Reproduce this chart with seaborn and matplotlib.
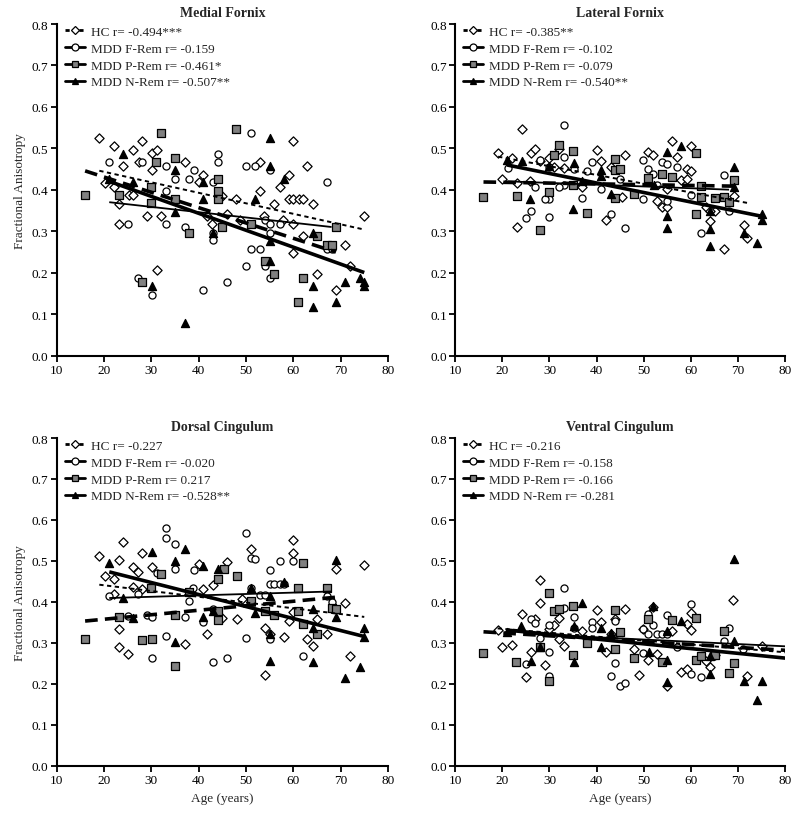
import numpy as np
import pandas as pd
import matplotlib
matplotlib.use("Agg")
import matplotlib.pyplot as plt
import seaborn as sns
from matplotlib.lines import Line2D

sns.set_theme(style="ticks")
plt.rcParams['font.family'] = ['Liberation Serif', 'DejaVu Serif']

groups = ["HC", "MDD F-Rem", "MDD P-Rem", "MDD N-Rem"]
panel_titles = ["Medial Fornix", "Lateral Fornix", "Dorsal Cingulum", "Ventral Cingulum"]

# r labels per panel
mf_r = ["-0.494***", "-0.159", "-0.461*", "-0.507**"]
lf_r = ["-0.385**", "-0.102", "-0.079", "-0.540**"]
dc_r = ["-0.227", "-0.020", "0.217", "-0.528**"]
vc_r = ["-0.216", "-0.158", "-0.166", "-0.281"]

# ---------------- Medial Fornix ----------------
mf_hc_age = [19.0,22.1,26.1,28.0,30.2,31.1,27.3,24.1,30.2,37.1,41.0,40.0,20.1,22.1,23.1,25.2,26.1,23.1,29.0,32.0,31.1,45.0,47.9,53.0,53.0,57.1,59.0,60.0,63.0,55.9,59.0,60.0,61.2,62.1,64.1,60.0,60.0,62.0,71.0,65.0,69.0,75.0,57.9,45.9,42.8,41.8,48.8,53.8,72.0]
mf_hc_fa = [0.526,0.506,0.497,0.517,0.488,0.497,0.468,0.457,0.448,0.468,0.437,0.418,0.417,0.407,0.367,0.387,0.387,0.318,0.338,0.338,0.207,0.386,0.378,0.467,0.398,0.407,0.437,0.517,0.457,0.367,0.378,0.378,0.378,0.378,0.367,0.318,0.248,0.289,0.268,0.198,0.158,0.338,0.327,0.341,0.318,0.338,0.328,0.338,0.217]
mf_f_age = [21.1,25.1,28.0,33.1,33.1,35.1,38.0,39.0,44.0,44.0,37.1,33.1,43.0,43.0,43.0,49.9,51.0,52.0,55.0,54.0,55.0,55.0,51.0,53.0,49.9,54.0,55.0,45.9,41.0,27.2,30.2,67.1,67.1,68.1,57.1]
mf_f_fa = [0.468,0.318,0.468,0.457,0.398,0.427,0.427,0.448,0.487,0.468,0.310,0.318,0.418,0.297,0.279,0.457,0.537,0.457,0.448,0.328,0.318,0.297,0.258,0.258,0.217,0.217,0.187,0.178,0.158,0.187,0.147,0.418,0.258,0.258,0.318]
mf_p_age = [32.1,47.9,16.0,23.1,31.0,35.1,30.0,30.0,35.1,44.0,44.0,44.0,38.0,45.0,51.0,54.0,55.9,62.0,61.0,65.0,67.1,68.1,69.0,28.0]
mf_p_fa = [0.537,0.546,0.388,0.388,0.468,0.477,0.408,0.368,0.378,0.427,0.398,0.378,0.297,0.310,0.318,0.228,0.198,0.187,0.129,0.288,0.268,0.268,0.310,0.178]
mf_n_age = [24.1,35.1,26.1,41.0,41.0,35.1,43.0,55.0,55.0,58.1,52.0,55.0,55.0,64.1,30.2,37.1,64.1,64.1,69.0,71.0,74.0,75.0,75.0,21.1]
mf_n_fa = [0.487,0.448,0.418,0.418,0.378,0.347,0.297,0.526,0.458,0.427,0.378,0.277,0.228,0.297,0.167,0.078,0.167,0.118,0.129,0.178,0.187,0.178,0.167,0.427]

# ---------------- Lateral Fornix ----------------
lf_hc_age = [19.1,22.0,24.1,26.0,27.0,28.0,30.0,31.0,32.0,33.0,40.0,41.0,43.0,46.0,20.0,23.1,25.9,23.1,41.9,51.0,51.9,55.9,57.0,58.0,59.1,60.0,60.1,54.9,52.9,53.9,54.9,63.2,64.1,65.2,69.2,71.2,72.0,67.1,64.1,45.3,36.9,59.1]
lf_hc_fa = [0.489,0.477,0.547,0.489,0.499,0.470,0.476,0.455,0.498,0.452,0.497,0.469,0.456,0.485,0.425,0.417,0.422,0.310,0.328,0.492,0.485,0.519,0.479,0.423,0.451,0.506,0.446,0.402,0.374,0.358,0.358,0.358,0.326,0.350,0.386,0.316,0.285,0.258,0.350,0.382,0.406,0.426]
lf_f_age = [33.0,21.1,28.0,33.0,30.0,33.0,27.0,30.0,29.0,26.0,25.1,30.0,32.0,36.9,37.9,39.0,41.0,43.0,46.0,49.9,51.0,51.9,53.9,54.9,57.0,48.0,49.9,52.9,54.9,60.0,62.1,67.1,68.1,35.1,45.0]
lf_f_fa = [0.556,0.452,0.471,0.480,0.456,0.411,0.408,0.378,0.378,0.349,0.333,0.334,0.408,0.381,0.446,0.466,0.402,0.342,0.309,0.472,0.450,0.439,0.466,0.463,0.455,0.390,0.379,0.411,0.373,0.388,0.296,0.435,0.348,0.450,0.426]
lf_p_age = [16.0,23.1,28.0,30.0,31.0,32.0,35.0,35.0,37.9,44.0,44.0,45.0,44.0,48.0,51.0,53.9,55.9,61.1,62.1,62.1,61.1,65.2,67.1,68.1,69.2]
lf_p_fa = [0.382,0.384,0.304,0.395,0.485,0.509,0.493,0.411,0.345,0.474,0.448,0.450,0.381,0.390,0.429,0.438,0.432,0.489,0.410,0.382,0.341,0.381,0.382,0.370,0.424]
lf_n_age = [21.0,24.1,30.0,35.1,41.0,41.0,25.9,35.0,43.0,54.9,58.0,54.9,54.9,64.1,64.1,64.1,69.2,69.2,71.2,74.1,75.1,75.1,36.9,52.1]
lf_n_fa = [0.472,0.470,0.458,0.464,0.448,0.434,0.378,0.354,0.391,0.492,0.506,0.338,0.309,0.350,0.305,0.264,0.456,0.408,0.297,0.273,0.328,0.341,0.422,0.411]

# ---------------- Dorsal Cingulum ----------------
dc_hc_age = [19.0,24.1,23.1,28.0,26.1,27.1,30.2,20.1,22.1,26.1,28.0,22.1,23.1,23.1,25.1,37.1,40.0,41.0,43.0,46.0,45.0,41.8,48.2,49.2,51.1,54.1,54.1,55.0,58.1,59.0,60.0,60.0,60.0,63.0,64.1,65.0,67.1,69.0,71.0,72.0,75.0]
dc_hc_fa = [0.511,0.545,0.502,0.519,0.484,0.473,0.485,0.462,0.455,0.437,0.431,0.419,0.333,0.289,0.272,0.298,0.492,0.431,0.441,0.498,0.360,0.321,0.358,0.408,0.530,0.337,0.221,0.321,0.315,0.354,0.550,0.519,0.376,0.309,0.293,0.358,0.321,0.481,0.397,0.267,0.489]
dc_f_age = [33.1,33.1,35.1,35.1,39.0,31.1,21.1,25.1,29.0,30.2,33.1,30.2,37.1,38.0,38.9,43.0,45.9,41.0,49.9,51.1,52.0,55.0,55.0,56.0,57.1,58.1,57.1,60.0,49.9,53.0,54.1,55.0,62.0,68.1,67.1,27.1,51.0,43.1]
dc_f_fa = [0.581,0.555,0.541,0.481,0.478,0.470,0.415,0.366,0.368,0.362,0.316,0.264,0.362,0.403,0.433,0.254,0.264,0.351,0.567,0.508,0.504,0.477,0.443,0.443,0.443,0.443,0.500,0.500,0.311,0.417,0.417,0.309,0.267,0.400,0.415,0.419,0.433,0.382]
dc_p_age = [16.0,23.1,28.0,30.2,30.0,32.1,35.1,35.1,38.0,44.0,45.3,44.0,48.2,51.0,54.0,56.0,61.0,61.0,62.0,65.0,62.1,67.1,68.1,69.0,44.0]
dc_p_fa = [0.309,0.362,0.306,0.309,0.433,0.468,0.368,0.244,0.423,0.455,0.480,0.355,0.462,0.403,0.378,0.368,0.378,0.433,0.346,0.321,0.494,0.433,0.386,0.382,0.378]
dc_n_age = [21.1,30.2,37.1,35.1,41.0,44.0,24.1,26.1,35.1,41.0,43.0,51.1,52.0,55.0,55.0,55.0,58.1,64.1,64.1,64.1,69.0,69.0,71.0,74.0,75.0,75.0]
dc_n_fa = [0.494,0.522,0.530,0.500,0.488,0.480,0.409,0.360,0.302,0.364,0.378,0.435,0.372,0.415,0.321,0.256,0.449,0.382,0.335,0.254,0.503,0.364,0.213,0.242,0.337,0.313]

# ---------------- Ventral Cingulum ----------------
vc_hc_age = [19.0,20.0,22.0,24.1,25.1,26.1,27.0,28.0,28.0,29.0,30.0,31.0,32.0,33.0,32.0,36.9,40.0,41.0,42.0,43.0,46.0,48.0,49.0,49.9,51.0,51.9,52.9,55.0,56.0,58.0,59.1,60.0,60.1,63.1,64.1,65.1,69.0,72.0,75.1,59.1,44.0]
vc_hc_fa = [0.331,0.291,0.294,0.370,0.216,0.277,0.359,0.453,0.398,0.246,0.333,0.343,0.360,0.293,0.309,0.329,0.380,0.350,0.278,0.321,0.382,0.286,0.221,0.333,0.258,0.388,0.272,0.195,0.328,0.228,0.237,0.374,0.331,0.256,0.240,0.270,0.404,0.220,0.293,0.346,0.358]
vc_f_age = [26.1,27.0,30.0,33.0,33.0,35.1,35.1,30.0,25.1,30.0,39.0,39.0,44.0,44.0,43.0,45.0,46.0,49.9,49.9,51.0,51.0,52.9,53.9,54.9,54.9,57.0,60.0,60.1,62.1,67.1,68.1,71.0,51.9,28.0]
vc_f_fa = [0.359,0.348,0.343,0.433,0.386,0.364,0.337,0.278,0.248,0.218,0.351,0.337,0.354,0.251,0.218,0.195,0.203,0.276,0.333,0.370,0.321,0.321,0.321,0.368,0.321,0.289,0.394,0.224,0.217,0.305,0.335,0.285,0.343,0.311]
vc_p_age = [16.0,23.0,28.0,30.0,31.0,32.0,35.0,35.0,30.0,37.9,44.0,45.0,48.0,51.0,53.9,55.9,61.1,61.1,62.1,65.2,67.1,68.1,69.2,43.9]
vc_p_fa = [0.275,0.252,0.289,0.421,0.378,0.382,0.389,0.270,0.207,0.299,0.381,0.327,0.262,0.358,0.254,0.356,0.259,0.361,0.267,0.270,0.328,0.226,0.250,0.285]
vc_n_age = [23.9,26.1,28.0,35.1,36.9,41.0,41.0,43.0,51.1,51.9,55.0,55.0,55.0,58.0,64.1,64.1,69.2,69.2,71.2,74.1,75.1,21.0,35.1]
vc_n_fa = [0.342,0.256,0.289,0.254,0.398,0.337,0.289,0.325,0.278,0.389,0.329,0.205,0.259,0.354,0.268,0.224,0.504,0.305,0.207,0.161,0.207,0.327,0.342]

panel_data = [
    [(mf_hc_age, mf_hc_fa), (mf_f_age, mf_f_fa), (mf_p_age, mf_p_fa), (mf_n_age, mf_n_fa)],
    [(lf_hc_age, lf_hc_fa), (lf_f_age, lf_f_fa), (lf_p_age, lf_p_fa), (lf_n_age, lf_n_fa)],
    [(dc_hc_age, dc_hc_fa), (dc_f_age, dc_f_fa), (dc_p_age, dc_p_fa), (dc_n_age, dc_n_fa)],
    [(vc_hc_age, vc_hc_fa), (vc_f_age, vc_f_fa), (vc_p_age, vc_p_fa), (vc_n_age, vc_n_fa)],
]
panel_r = [mf_r, lf_r, dc_r, vc_r]

rows = []
for pi, pdata in enumerate(panel_data):
    for gi, (ages, fas) in enumerate(pdata):
        for a, f in zip(ages, fas):
            rows.append({"panel": panel_titles[pi], "group": groups[gi], "age": a, "fa": f})
df = pd.DataFrame(rows)

# styles
markers = {"HC": "D", "MDD F-Rem": "o", "MDD P-Rem": "s", "MDD N-Rem": "^"}
faces = {"HC": "white", "MDD F-Rem": "white", "MDD P-Rem": "#808080", "MDD N-Rem": "black"}
msize = {"HC": 22, "MDD F-Rem": 26, "MDD P-Rem": 30, "MDD N-Rem": 34}
lstyle = {"HC": (0, (2.2, 1.8)), "MDD F-Rem": "-", "MDD P-Rem": (0, (3.5, 2.0)), "MDD N-Rem": "-"}
lwidth = {"HC": 1.4, "MDD F-Rem": 1.3, "MDD P-Rem": 2.6, "MDD N-Rem": 2.6}
extend_to_axis_end = [False, False, False, True]

fig = plt.figure(figsize=(8.0, 8.2), dpi=100)
axes_rects = [
    [0.0709, 0.565, 0.414, 0.4045],
    [0.569, 0.565, 0.4125, 0.4045],
    [0.0709, 0.065, 0.414, 0.3996],
    [0.569, 0.065, 0.4125, 0.3996],
]

for pi, title in enumerate(panel_titles):
    ax = fig.add_axes(axes_rects[pi])
    sub = df[df["panel"] == title]
    for g in groups:
        gd = sub[sub["group"] == g]
        sns.scatterplot(data=gd, x="age", y="fa", marker=markers[g], s=msize[g],
                        color=faces[g], edgecolor="black", linewidth=0.9,
                        ax=ax, zorder=3, legend=False)
    for g in groups:
        gd = sub[sub["group"] == g]
        slope, icpt = np.polyfit(gd["age"], gd["fa"], 1)
        x0 = gd["age"].min()
        x1 = 80 if extend_to_axis_end[pi] else gd["age"].max()
        xs = np.array([x0, x1])
        ax.plot(xs, icpt + slope * xs, color="black", lw=lwidth[g],
                linestyle=lstyle[g], zorder=4, solid_capstyle="butt")
    ax.set_xlim(10, 80)
    ax.set_ylim(0, 0.8)
    ax.set_xticks(np.arange(10, 81, 10))
    ax.set_yticks(np.arange(0, 0.81, 0.1))
    ax.set_yticklabels([f"{v:.1f}" for v in np.arange(0, 0.81, 0.1)])
    ax.tick_params(direction="out", length=4, width=1.3, labelsize=9.5, pad=2,
                   colors="black")
    for side in ["top", "right"]:
        ax.spines[side].set_visible(False)
    for side in ["left", "bottom"]:
        ax.spines[side].set_linewidth(1.5)
        ax.spines[side].set_color("black")
    ax.set_title(title, fontsize=10, fontweight="bold", pad=6)
    ax.set_xlabel("Age (years)" if pi >= 2 else "", fontsize=9.5)
    ax.set_ylabel("Fractional Anisotropy" if pi % 2 == 0 else "", fontsize=9.5, labelpad=4)

    handles = []
    for gi, g in enumerate(groups):
        handles.append(Line2D([0], [0], color="black", lw=2.0,
                              linestyle=(0, (1.5, 1.0)) if g == "HC" else "-",
                              marker=markers[g], markersize=4.5 if g == "HC" else 5,
                              markerfacecolor=faces[g], markeredgecolor="black",
                              markeredgewidth=0.9,
                              label=f"{g} r= {panel_r[pi][gi]}"))
    ax.legend(handles=handles, loc="upper left", bbox_to_anchor=(0.025, 0.995),
              frameon=False, fontsize=9.5, handlelength=1.5, handletextpad=0.45,
              labelspacing=0.35, borderaxespad=0, borderpad=0)

fig.savefig("out.png", dpi=100, facecolor="white")
